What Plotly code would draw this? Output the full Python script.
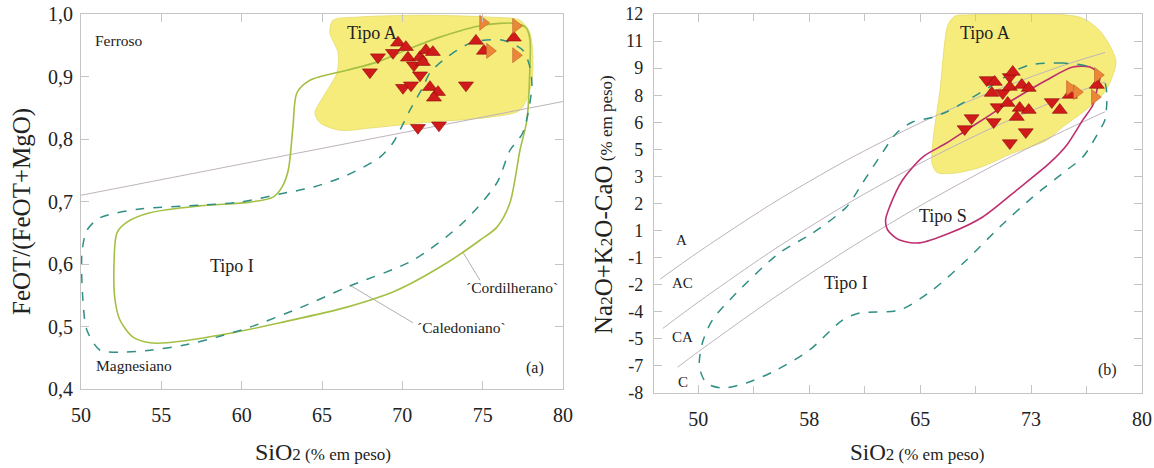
import plotly.graph_objects as go

# ---------------- Panel (a): FeOT/(FeOT+MgO) vs SiO2 ----------------
a_xticks = [50, 55, 60, 65, 70, 75, 80]
a_xticktext = ["50", "55", "60", "65", "70", "75", "80"]
a_yticks = [0.4, 0.5, 0.6, 0.7, 0.8, 0.9, 1.0]
a_yticktext = ["0,4", "0,5", "0,6", "0,7", "0,8", "0,9", "1,0"]

a_typeA_x = [65.68, 67.17, 71.28, 75.45, 77.32, 77.94, 78.13, 77.94, 77.32, 75.45, 71.28, 68.17,
             66.12, 64.87, 64.56, 65.06, 65.93, 66.00, 65.49, 65.68]
a_typeA_y = [0.990, 0.995, 0.998, 0.995, 0.990, 0.970, 0.915, 0.878, 0.846, 0.835, 0.826, 0.818,
             0.814, 0.826, 0.842, 0.867, 0.906, 0.938, 0.970, 0.990]

a_ferro_x = [50, 80]
a_ferro_y = [0.71, 0.86]

a_cord_x = [52.05, 52.24, 52.86, 54.29, 57.40, 60.52, 61.95, 62.51, 62.90, 63.19, 63.44, 64.25, 66.55,
            68.42, 70.50, 72.34, 75.02, 77.00, 77.70, 77.94, 77.94, 77.75, 77.32, 76.70, 75.89, 74.83,
            72.78, 69.66, 66.55, 62.38, 59.46, 55.35, 54.29, 53.24, 52.43, 52.12, 52.05]
a_cord_y = [0.595, 0.650, 0.667, 0.682, 0.693, 0.699, 0.707, 0.723, 0.750, 0.819, 0.874, 0.894, 0.910,
            0.923, 0.945, 0.963, 0.982, 0.985, 0.978, 0.960, 0.915, 0.830, 0.782, 0.698, 0.659, 0.638,
            0.602, 0.558, 0.531, 0.506, 0.490, 0.474, 0.474, 0.483, 0.510, 0.542, 0.595]

a_cal_x = [76.26, 74.39, 72.78, 71.72, 71.28, 70.47, 69.85, 69.42, 68.61, 66.55, 64.44, 62.38, 59.89,
           57.40, 53.67, 51.18, 50.37, 50.06, 50.12, 50.37, 51.18, 52.43, 54.29, 56.35, 58.46, 60.52,
           63.63, 66.55, 70.66, 73.77, 75.89, 76.70, 77.50, 78.06, 77.94, 77.50, 76.26]
a_cal_y = [0.958, 0.955, 0.931, 0.906, 0.883, 0.846, 0.814, 0.794, 0.771, 0.742, 0.723, 0.712, 0.699,
           0.694, 0.688, 0.674, 0.654, 0.618, 0.542, 0.494, 0.462, 0.459, 0.462, 0.470, 0.483, 0.499,
           0.530, 0.563, 0.606, 0.666, 0.730, 0.782, 0.810, 0.883, 0.915, 0.942, 0.958]

a_lead_cord_x = [73.77, 74.83]
a_lead_cord_y = [0.619, 0.574]
a_lead_cal_x = [66.74, 70.66]
a_lead_cal_y = [0.566, 0.506]

a_up_x = [69.73, 70.22, 70.35, 71.10, 71.47, 71.90, 71.28, 71.72, 72.22, 71.97, 74.58, 75.08, 76.94]
a_up_y = [0.954, 0.947, 0.930, 0.931, 0.942, 0.939, 0.923, 0.883, 0.875, 0.866, 0.957, 0.941, 0.962]
a_down_x = [68.48, 69.42, 70.72, 67.98, 71.10, 70.04, 70.54, 73.96, 70.97, 72.28]
a_down_y = [0.931, 0.938, 0.918, 0.907, 0.902, 0.882, 0.886, 0.886, 0.818, 0.822]
a_right_x = [75.02, 77.07, 75.45, 77.07]
a_right_y = [0.986, 0.981, 0.941, 0.934]

# ---------------- Panel (b): Na2O+K2O-CaO vs SiO2 ----------------
b_xticks = [50, 57.5, 65, 72.5, 80]
b_xticktext = ["50", "58", "65", "73", "80"]
b_xminor = [53.75, 61.25, 68.75, 76.25]
b_yticks = [12, 10.571, 9.143, 7.714, 6.286, 4.857, 3.429, 2.0, 0.571, -0.857, -2.286, -3.714,
            -5.143, -6.571, -8]
b_yticktext = ["12", "11", "9", "8", "6", "5", "3", "2", "1", "-1", "-2", "-4", "-5", "-7", "-8"]

b_typeA_x = [67.35, 68.16, 75.76, 77.10, 77.98, 78.24, 77.57, 76.43, 74.61, 73.54, 71.25, 69.03,
             67.22, 66.14, 65.80, 65.87, 66.34, 66.88, 67.35]
b_typeA_y = [11.89, 11.95, 11.84, 11.15, 10.10, 9.41, 7.98, 7.08, 6.02, 5.33, 4.65, 3.90,
             3.59, 3.64, 4.12, 5.33, 7.98, 11.42, 11.89]

b_lineA_x = [47.4, 50, 55, 60, 65, 70, 75, 77.5]
b_lineA_y = [-2.00, -0.56, 2.00, 4.27, 6.25, 7.95, 9.37, 9.97]
b_lineAC_x = [47.6, 50, 55, 60, 65, 70, 75, 77.5]
b_lineAC_y = [-4.59, -3.20, -0.49, 1.95, 4.12, 6.04, 7.69, 8.42]
b_lineCA_x = [48.6, 50, 55, 60, 65, 70, 75, 77.5]
b_lineCA_y = [-6.64, -5.82, -3.04, -0.47, 1.88, 4.02, 5.94, 6.84]

b_typeI_x = [76.47, 74.64, 72.41, 71.26, 69.70, 67.87, 66.79, 65.64, 64.49, 63.41, 62.25, 61.10,
             60.02, 57.72, 55.48, 52.57, 50.95, 50.27, 50.07, 50.54, 51.62, 53.25, 55.28, 57.52,
             59.75, 60.90, 63.61, 65.84, 68.14, 70.38, 72.61, 74.92, 76.00, 77.15, 77.49, 77.62,
             77.35, 76.47]
b_typeI_y = [9.20, 9.41, 9.31, 8.94, 8.15, 7.30, 6.83, 6.51, 6.30, 5.72, 4.45, 3.08,
             1.82, 0.44, -0.61, -2.72, -4.15, -5.36, -6.63, -7.47, -7.74, -7.47, -6.79, -5.73,
             -4.15, -3.78, -3.62, -2.56, -0.98, 0.76, 2.34, 3.77, 4.45, 5.88, 6.41, 7.83,
             8.68, 9.20]

b_typeS_x = [62.93, 63.81, 65.17, 66.79, 68.14, 69.50, 71.26, 73.56, 75.32, 76.47, 77.15, 76.95,
             76.68, 76.00, 74.92, 73.76, 71.53, 69.23, 67.00, 64.96, 63.61, 62.80, 62.66, 62.93]
b_typeS_y = [1.82, 3.24, 4.45, 5.19, 5.88, 6.56, 7.46, 8.52, 9.20, 9.20, 8.78, 7.99,
             7.20, 6.41, 5.09, 4.14, 2.71, 1.29, 0.44, -0.08, 0.07, 0.60, 1.13, 1.82]

b_up_x = [70.04, 71.26, 69.84, 71.06, 71.87, 72.34, 70.92, 71.73, 72.34, 71.53, 74.44, 75.12, 76.95]
b_up_y = [8.41, 8.94, 7.83, 8.15, 8.25, 8.09, 7.30, 7.04, 6.93, 6.56, 6.93, 7.73, 8.25]
b_down_x = [69.50, 71.06, 70.58, 70.24, 68.48, 68.01, 69.97, 72.14, 71.06, 73.90]
b_down_y = [8.52, 8.68, 7.83, 7.09, 6.51, 5.93, 6.30, 5.77, 5.19, 7.36]
b_right_x = [75.12, 75.59, 77.01, 76.81]
b_right_y = [8.09, 7.88, 8.78, 7.62]

# ---------------- styling ----------------
W, H = 1154, 468
def PX(px):
    return px / W
def PY(py):
    return 1 - py / H

SERIF = "Liberation Serif, Times New Roman, serif"
TXT = "#222222"
FRAME = "#c4c4c4"
YELLOW = "#f6ec7c"
YEDGE = "#e6da6a"
GREEN = "#a4c044"
TEAL = "#2f8f84"
GREY = "#bdb3bd"
MAGENTA = "#be2f6f"
RED = "#d11a1a"
ORANGE = "#ec8738"

fig = go.Figure()

def line(x, y, color, width, dash="solid", xa="x", ya="y", shape="spline"):
    fig.add_trace(go.Scatter(x=x, y=y, mode="lines", xaxis=xa, yaxis=ya,
                             line=dict(color=color, width=width, dash=dash, shape=shape,
                                       smoothing=0.8),
                             hoverinfo="skip", showlegend=False))

def fill(x, y, xa, ya):
    fig.add_trace(go.Scatter(x=x, y=y, mode="lines", xaxis=xa, yaxis=ya, fill="toself",
                             fillcolor=YELLOW, line=dict(color=YEDGE, width=0.8, shape="spline",
                                                         smoothing=0.8),
                             hoverinfo="skip", showlegend=False))

def marks(x, y, symbol, color, edge, xa, ya):
    fig.add_trace(go.Scatter(x=x, y=y, mode="markers", xaxis=xa, yaxis=ya,
                             marker=dict(symbol=symbol, size=13, color=color,
                                         line=dict(color=edge, width=0.6)),
                             showlegend=False))

# panel a
fill(a_typeA_x, a_typeA_y, "x", "y")
line(a_ferro_x, a_ferro_y, GREY, 1, shape="linear")
line(a_lead_cord_x, a_lead_cord_y, "#9a9a9a", 0.8, shape="linear")
line(a_lead_cal_x, a_lead_cal_y, "#9a9a9a", 0.8, shape="linear")
line(a_cord_x, a_cord_y, GREEN, 1.6)
line(a_cal_x, a_cal_y, TEAL, 1.5, dash="dash")
marks(a_down_x, a_down_y, "triangle-down", RED, "#8a0a0a", "x", "y")
marks(a_up_x, a_up_y, "triangle-up", RED, "#8a0a0a", "x", "y")
marks(a_right_x, a_right_y, "triangle-right", ORANGE, "#c0602a", "x", "y")

# panel b
fill(b_typeA_x, b_typeA_y, "x2", "y2")
line(b_lineA_x, b_lineA_y, GREY, 1, xa="x2", ya="y2")
line(b_lineAC_x, b_lineAC_y, GREY, 1, xa="x2", ya="y2")
line(b_lineCA_x, b_lineCA_y, GREY, 1, xa="x2", ya="y2")
line(b_typeS_x, b_typeS_y, MAGENTA, 1.6, xa="x2", ya="y2")
line(b_typeI_x, b_typeI_y, TEAL, 1.5, dash="dash", xa="x2", ya="y2")
marks(b_down_x, b_down_y, "triangle-down", RED, "#8a0a0a", "x2", "y2")
marks(b_up_x, b_up_y, "triangle-up", RED, "#8a0a0a", "x2", "y2")
marks(b_right_x, b_right_y, "triangle-right", ORANGE, "#c0602a", "x2", "y2")

axis_common = dict(showline=True, linecolor=FRAME, linewidth=1.2, mirror="allticks",
                   ticks="inside", ticklen=8, tickcolor=FRAME, tickwidth=1.2,
                   showgrid=False, zeroline=False, ticklabeloverflow="allow",
                   automargin=False)

fig.update_layout(
    width=W, height=H, margin=dict(l=0, r=0, t=0, b=0, autoexpand=False),
    paper_bgcolor="white", plot_bgcolor="white", showlegend=False,
    xaxis=dict(domain=[PX(81), PX(563)], range=[50, 80], tickmode="array",
               tickvals=a_xticks, ticktext=a_xticktext, anchor="y",
               ticklabelstandoff=8, tickfont=dict(family=SERIF, size=20, color=TXT),
               **axis_common),
    yaxis=dict(domain=[PY(389), PY(14)], range=[0.4, 1.0], tickmode="array",
               tickvals=a_yticks, ticktext=a_yticktext, anchor="x",
               ticklabelstandoff=3, tickfont=dict(family=SERIF, size=20, color=TXT),
               **axis_common),
    xaxis2=dict(domain=[PX(654), PX(1142)], range=[47, 80], tickmode="array",
                tickvals=b_xticks, ticktext=b_xticktext, anchor="y2",
                ticklabelstandoff=8, tickfont=dict(family=SERIF, size=20, color=TXT),
                minor=dict(tickmode="array", tickvals=b_xminor, ticks="inside",
                           ticklen=7, tickcolor=FRAME, tickwidth=1.2),
                **axis_common),
    yaxis2=dict(domain=[PY(393), PY(14)], range=[-8, 12], tickmode="array",
                tickvals=b_yticks, ticktext=b_yticktext, anchor="x2",
                ticklabelstandoff=6, tickfont=dict(family=SERIF, size=18, color=TXT),
                **axis_common),
)

def note(text, x, y, size, xref="x", yref="y", angle=0):
    fig.add_annotation(text=text, x=x, y=y, xref=xref, yref=yref, showarrow=False,
                       textangle=angle, font=dict(family=SERIF, size=size, color=TXT),
                       xanchor="center", yanchor="middle")

# panel a labels
note("Ferroso", 52.36, 0.957, 15.5)
note("Magnesiano", 53.3, 0.437, 15.5)
note("Tipo I", 59.4, 0.597, 18)
note("Tipo A", 68.1, 0.970, 18)
note("´Cordilherano`", 76.82, 0.562, 15.5)
note("´Caledoniano`", 73.7, 0.498, 15.5)
note("(a)", 78.25, 0.434, 16)

# panel b labels
note("Tipo A", 69.36, 11.0, 18, "x2", "y2")
note("Tipo S", 66.52, 1.34, 18, "x2", "y2")
note("Tipo I", 59.95, -2.2, 18, "x2", "y2")
note("A", 48.85, 0.1, 15, "x2", "y2")
note("AC", 48.95, -2.2, 15, "x2", "y2")
note("CA", 48.95, -5.05, 15, "x2", "y2")
note("C", 48.95, -7.42, 15, "x2", "y2")
note("(b)", 77.69, -6.79, 16, "x2", "y2")

# axis titles
note("FeOT/(FeOT+MgO)", PX(22), PY(212), 25, "paper", "paper", -90)
note("SiO<span style='font-size:17px'>2 (% em peso)</span>", PX(323), PY(452), 24,
     "paper", "paper")
note("SiO<span style='font-size:17px'>2 (% em peso)</span>", PX(917), PY(452), 23,
     "paper", "paper")
note("Na<span style='font-size:17px'>2</span>O+K<span style='font-size:17px'>2</span>O-CaO"
     "<span style='font-size:17px'> (% em peso)</span>", PX(603), PY(205), 25,
     "paper", "paper", -90)

# remove the default page margin so the 1154x468 figure fills the window exactly
fig.write_html("out.html", config={"displayModeBar": False},
               post_script="document.body.style.margin='0';document.body.style.overflow='hidden';")
